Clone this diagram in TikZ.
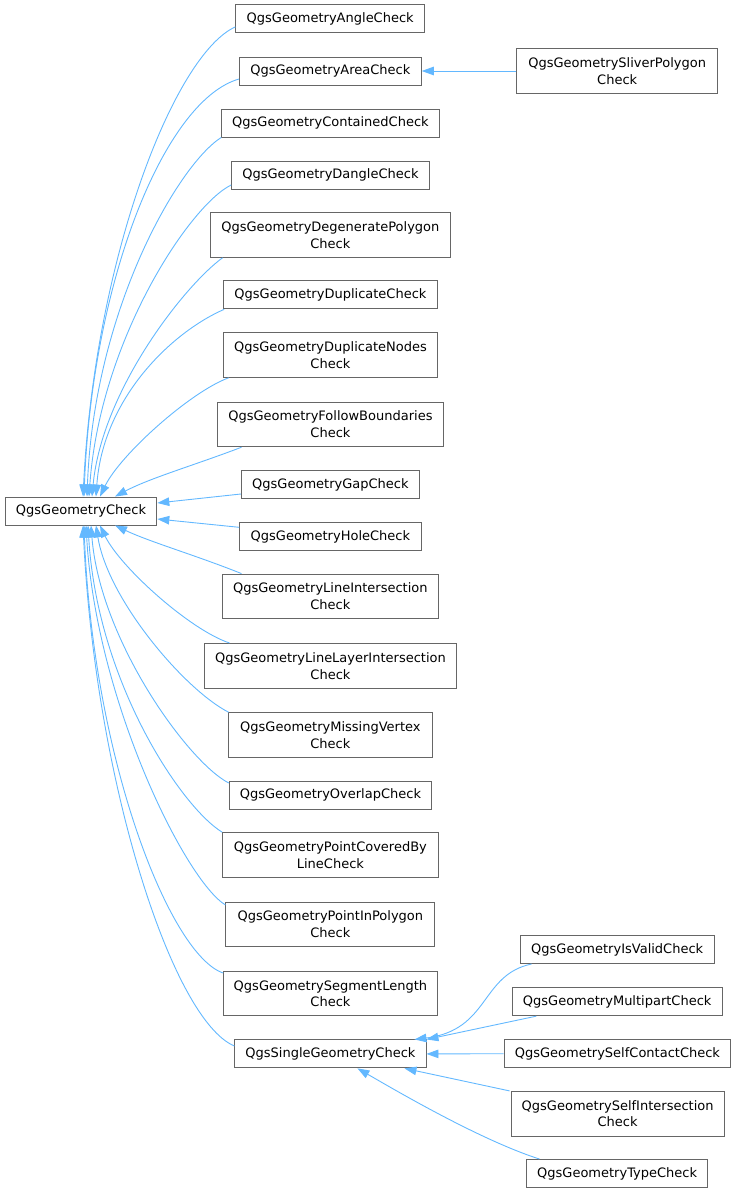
\documentclass[tikz,border=0pt]{standalone}
\usepackage{fontspec}
\setmainfont{DejaVu Sans}
\usetikzlibrary{arrows.meta}
\definecolor{edgeblue}{HTML}{63B8FF}
\definecolor{boxgray}{HTML}{666666}
\begin{document}
\begin{tikzpicture}[x=1pt,y=-1pt,
  cls/.style={draw=boxgray, fill=white, line width=0.9pt, inner sep=0pt,
    minimum height=28pt, font=\fontsize{13}{16.7}\selectfont, align=center},
  two/.style={minimum height=44.7pt},
  inh/.style={draw=edgeblue, line width=0.9pt, -{Triangle[length=12pt,width=8.5pt]}}]
\useasboundingbox (0,0) rectangle (736,1193);

% nodes
\node[cls, minimum width=188.8pt] (angle) at (330.2,18.9) {QgsGeometryAngleCheck};
\node[cls, minimum width=181.8pt] (area) at (330.4,71) {QgsGeometryAreaCheck};
\node[cls, two, minimum width=201pt] (sliver) at (617.2,71) {QgsGeometrySliverPolygon\\Check};
\node[cls, minimum width=217.5pt] (contained) at (330.45,123) {QgsGeometryContainedCheck};
\node[cls, minimum width=197.7pt] (dangle) at (330.45,175.2) {QgsGeometryDangleCheck};
\node[cls, two, minimum width=240pt] (degenerate) at (330.4,235) {QgsGeometryDegeneratePolygon\\Check};
\node[cls, minimum width=213.7pt] (duplicate) at (330.45,294.9) {QgsGeometryDuplicateCheck};
\node[cls, two, minimum width=214.7pt] (dupnodes) at (330.45,355) {QgsGeometryDuplicateNodes\\Check};
\node[cls, two, minimum width=226.9pt] (follow) at (330.45,424.4) {QgsGeometryFollowBoundaries\\Check};
\node[cls, minimum width=178pt] (gap) at (330.4,484.5) {QgsGeometryGapCheck};
\node[cls, minimum width=151.7pt] (root) at (81,511) {QgsGeometryCheck};
\node[cls, minimum width=181.8pt] (hole) at (330.4,536.5) {QgsGeometryHoleCheck};
\node[cls, two, minimum width=215.6pt] (lineint) at (330.4,596.4) {QgsGeometryLineIntersection\\Check};
\node[cls, two, minimum width=251.3pt] (linelayer) at (330.45,665.8) {QgsGeometryLineLayerIntersection\\Check};
\node[cls, two, minimum width=203.4pt] (missing) at (330.4,735) {QgsGeometryMissingVertex\\Check};
\node[cls, minimum width=202.5pt] (overlap) at (330.45,795) {QgsGeometryOverlapCheck};
\node[cls, two, minimum width=215.6pt] (pointcov) at (330.4,855) {QgsGeometryPointCoveredBy\\LineCheck};
\node[cls, two, minimum width=209pt] (pointpoly) at (330.4,924.4) {QgsGeometryPointInPolygon\\Check};
\node[cls, two, minimum width=213.7pt] (segment) at (330.45,993.5) {QgsGeometrySegmentLength\\Check};
\node[cls, minimum width=191.1pt] (single) at (330.45,1053.9) {QgsSingleGeometryCheck};
\node[cls, minimum width=194.4pt] (isvalid) at (617.2,949.5) {QgsGeometryIsValidCheck};
\node[cls, minimum width=210.4pt] (multipart) at (617.2,1001.7) {QgsGeometryMultipartCheck};
\node[cls, minimum width=226.9pt] (selfcontact) at (617.45,1053.7) {QgsGeometrySelfContactCheck};
\node[cls, two, minimum width=213.3pt] (selfint) at (617.65,1113.7) {QgsGeometrySelfIntersection\\Check};
\node[cls, minimum width=181.3pt] (type) at (617.15,1173.5) {QgsGeometryTypeCheck};

% edges to QgsGeometryCheck (top side)
\draw[inh] ([yshift=-8pt]angle.west) .. controls (175,54) and (95,256) .. ([xshift=2pt]root.north);
\draw[inh] ([yshift=-8pt]area.west) .. controls (165,100) and (92,280) .. ([xshift=3pt]root.north);
\draw[inh] (contained.south west) .. controls (178,165) and (94,310) .. ([xshift=6pt]root.north);
\draw[inh] ([yshift=-9.8pt]dangle.west) .. controls (190,205) and (100,340) .. ([xshift=8pt]root.north);
\draw[inh] ([xshift=12.6pt]degenerate.south west) .. controls (185,285) and (102,390) .. ([xshift=11pt]root.north);
\draw[inh] ([xshift=1pt]duplicate.south west) .. controls (172,332) and (103,398) .. ([xshift=15pt]root.north);
\draw[inh] ([xshift=6pt]dupnodes.south west) .. controls (190,392) and (120,455) .. ([xshift=19pt]root.north);
\draw[inh] ([xshift=25pt]follow.south west) .. controls (195,465) and (150,478) .. ([xshift=34pt]root.north);
% right side
\draw[inh] ([yshift=-9.5pt]gap.west) -- ([yshift=8pt]root.east);
\draw[inh] ([yshift=9.2pt]hole.west) -- ([yshift=-8pt]root.east);
% bottom side
\draw[inh] ([xshift=19.4pt]lineint.north west) .. controls (195,555) and (150,542) .. ([xshift=34pt]root.south);
\draw[inh] ([xshift=25.2pt]linelayer.north west) .. controls (190,630) and (120,567) .. ([xshift=19pt]root.south);
\draw[inh] ([xshift=0.3pt]missing.north west) .. controls (185,690) and (108,600) .. ([xshift=15pt]root.south);
\draw[inh] ([yshift=12pt]overlap.west) .. controls (188,762) and (100,640) .. ([xshift=10pt]root.south);
\draw[inh] (pointcov.north west) .. controls (180,806) and (97,680) .. ([xshift=7pt]root.south);
\draw[inh] ([yshift=19.4pt]pointpoly.west) .. controls (185,880) and (96,700) .. ([xshift=5pt]root.south);
\draw[inh] ([yshift=20.5pt]segment.west) .. controls (170,955) and (93,760) .. ([xshift=3pt]root.south);
\draw[inh] ([yshift=7.9pt]single.west) .. controls (172,1020) and (95,780) .. ([xshift=2pt]root.south);

% other inheritance
\draw[inh] (sliver.west) -- (area.east);
\draw[inh] ([xshift=12pt]isvalid.south west) .. controls (480,975) and (490,1030) .. ([xshift=-12pt]single.north east);
\draw[inh] ([xshift=24.7pt]multipart.south west) -- ([xshift=0pt]single.north east);
\draw[inh] (selfcontact.west) -- (single.east);
\draw[inh] ([xshift=-1pt]selfint.north west) -- ([xshift=-22pt]single.south east);
\draw[inh] ([xshift=13.5pt]type.north west) .. controls (480,1140) and (395,1090) .. ([xshift=-69pt]single.south east);
\end{tikzpicture}
\end{document}
